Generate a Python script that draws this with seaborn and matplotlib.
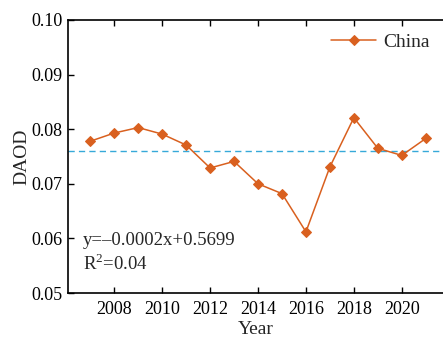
import matplotlib
matplotlib.use("Agg")
import matplotlib.pyplot as plt
import seaborn as sns
import pandas as pd

years = [2007, 2008, 2009, 2010, 2011, 2012, 2013, 2014, 2015, 2016, 2017, 2018, 2019, 2020, 2021]
daod = [0.0778, 0.0793, 0.0803, 0.0791, 0.0771, 0.0729, 0.0741, 0.0700, 0.0682, 0.0612,
        0.0731, 0.0821, 0.0765, 0.0752, 0.0783]
mean_level = 0.0760
series_name = "China"
yticks = [0.05, 0.06, 0.07, 0.08, 0.09, 0.10]
xticks = [2008, 2010, 2012, 2014, 2016, 2018, 2020]
eq_text = "y=\u20130.0002x+0.5699"
r2_text = "R$^2$=0.04"

sns.set_style("ticks")
plt.rcParams["font.family"] = ["Liberation Serif", "DejaVu Serif"]
plt.rcParams["mathtext.fontset"] = "custom"
plt.rcParams["mathtext.rm"] = "Liberation Serif"

df = pd.DataFrame({"Year": years, "DAOD": daod, "Region": series_name})

fig = plt.figure(figsize=(4.43, 3.38), dpi=100)
ax = fig.add_axes([68 / 443, 1 - 293 / 338, 1 - 68 / 443, (293 - 20) / 338])

sns.lineplot(data=df, x="Year", y="DAOD", hue="Region", palette=["#d9601f"],
             marker="D", markersize=5.5, markeredgecolor="#d9601f", linewidth=1.1, ax=ax)
ax.axhline(mean_level, color="#36a9d9", linestyle=(0, (4.5, 3)), linewidth=1.0, zorder=1)

ax.set_xlim(2006.07, 2021.72)
ax.set_ylim(0.05, 0.10)
ax.set_xticks(xticks)
ax.set_yticks(yticks)
ax.set_yticklabels([f"{v:.2f}" for v in yticks])
ax.tick_params(axis="both", direction="in", length=4, width=1, labelsize=13, colors="black")
ax.tick_params(axis="x", top=True, pad=6)
ax.tick_params(axis="y", pad=4)
for s in ["left", "top", "bottom"]:
    ax.spines[s].set_visible(True)
    ax.spines[s].set_linewidth(1.2)
    ax.spines[s].set_color("black")
ax.spines["right"].set_visible(False)

ax.set_xlabel("Year", fontsize=14, labelpad=2)
ax.set_ylabel("DAOD", fontsize=14, labelpad=0.5)

ax.text((83 - 68) / 375, (293 - 245) / 273, eq_text, transform=ax.transAxes,
        fontsize=13.5, va="baseline", ha="left")
ax.text((83 - 68) / 375, (293 - 270) / 273, r2_text, transform=ax.transAxes,
        fontsize=13.5, va="baseline", ha="left")

leg = ax.legend(loc="upper right", frameon=False, fontsize=14, handlelength=2.3,
                handletextpad=0.35, borderaxespad=0.3, title=None)

fig.savefig("out.png", dpi=100)
